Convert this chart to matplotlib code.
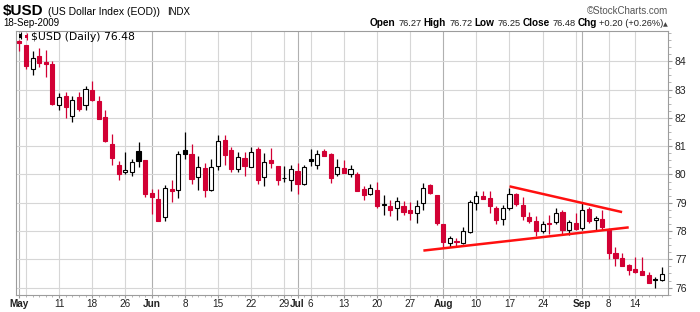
import numpy as np
import pandas as pd
import matplotlib
matplotlib.use("Agg")
import matplotlib.pyplot as plt

# trading days May 1 - Sep 18 2009, US holidays skipped
holidays = ["2009-05-25", "2009-07-03", "2009-09-07"]
dates = pd.bdate_range("2009-05-01", "2009-09-18").drop(pd.to_datetime(holidays))

opens = [84.71, 84.56, 83.72, 84.19, 83.98, 83.91, 82.44, 82.78, 82.08, 82.74,
         82.45, 82.99, 82.60, 82.03, 81.08, 80.34, 80.08, 80.08, 80.84, 80.52,
         79.36, 79.14, 78.49, 79.49, 79.46, 80.85, 80.72, 79.91, 80.24, 79.44,
         80.31, 81.23, 80.87, 80.19, 80.58, 80.28, 80.90, 79.91, 80.52, 80.31,
         79.86, 79.81, 80.13, 79.66, 80.55, 80.34, 80.84, 80.73, 80.02, 80.24,
         80.02, 80.02, 79.48, 79.31, 79.46, 78.92, 78.89, 78.81, 78.89, 78.75,
         78.63, 78.99, 79.64, 79.26, 78.26, 77.58, 77.66, 77.58, 77.96, 78.99,
         79.25, 79.17, 78.81, 78.41, 78.81, 79.32, 78.93, 78.48, 78.36, 77.99,
         78.27, 78.32, 78.69, 78.02, 78.28, 78.11, 78.78, 78.39, 78.43, 78.05,
         77.22, 77.05, 76.81, 76.66, 76.60, 76.46, 76.30, 76.27]
highs = [84.75, 84.58, 84.38, 84.47, 84.41, 84.00, 82.88, 82.92, 82.78, 82.92,
         83.13, 83.29, 82.76, 82.29, 81.43, 80.48, 80.80, 80.54, 81.16, 80.52,
         79.50, 79.48, 79.64, 79.81, 80.84, 81.51, 81.08, 80.66, 80.42, 80.54,
         81.39, 81.40, 80.97, 80.81, 80.78, 80.97, 80.97, 80.76, 80.93, 80.31,
         80.31, 80.34, 80.42, 80.34, 80.91, 80.87, 80.91, 80.76, 80.54, 80.52,
         80.34, 80.07, 79.60, 79.67, 79.75, 79.28, 79.11, 79.22, 79.05, 79.01,
         79.11, 79.70, 79.66, 79.26, 78.26, 77.83, 77.75, 78.14, 79.11, 79.43,
         79.42, 79.40, 78.87, 78.93, 79.52, 79.36, 79.21, 78.66, 78.54, 78.34,
         78.58, 78.83, 78.75, 78.40, 78.63, 78.99, 78.85, 78.54, 78.73, 78.11,
         77.43, 77.22, 76.84, 77.09, 77.08, 76.54, 76.39, 76.72]
lows = [84.35, 83.73, 83.50, 83.79, 83.43, 82.45, 82.28, 82.01, 81.87, 82.23,
        82.29, 82.60, 81.95, 81.15, 80.34, 79.79, 80.01, 79.96, 80.28, 79.22,
        78.60, 78.34, 78.37, 79.01, 79.17, 80.54, 79.66, 79.46, 79.20, 79.40,
        80.17, 80.34, 80.07, 80.07, 79.95, 80.28, 79.67, 79.58, 80.23, 79.61,
        79.74, 79.41, 79.32, 79.61, 80.31, 80.19, 80.67, 79.70, 79.95, 80.05,
        79.91, 79.40, 79.11, 79.26, 78.81, 78.57, 78.54, 78.40, 78.58, 78.40,
        78.30, 78.75, 79.32, 78.22, 77.40, 77.43, 77.43, 77.54, 77.93, 78.73,
        79.13, 78.63, 78.25, 78.22, 78.73, 78.87, 78.40, 78.28, 77.81, 77.93,
        77.90, 78.24, 77.87, 77.87, 78.05, 78.05, 78.28, 78.05, 78.05, 77.02,
        76.77, 76.75, 76.46, 76.52, 76.46, 76.16, 75.99, 76.25]
closes = [84.63, 83.85, 84.11, 83.94, 83.92, 82.50, 82.73, 82.37, 82.64, 82.32,
          83.02, 82.62, 81.97, 81.17, 80.57, 80.02, 80.17, 80.45, 80.49, 79.32,
          79.20, 78.36, 79.52, 79.42, 80.72, 80.74, 79.84, 80.26, 79.46, 80.26,
          81.17, 80.70, 80.21, 80.61, 80.31, 80.79, 79.81, 80.44, 80.42, 79.81,
          79.88, 80.19, 79.66, 80.25, 80.46, 80.73, 80.67, 79.87, 80.26, 80.05,
          80.19, 79.40, 79.28, 79.52, 78.87, 78.94, 78.75, 79.07, 78.66, 78.64,
          78.87, 79.52, 79.34, 78.28, 77.60, 77.75, 77.60, 78.01, 79.01, 79.25,
          79.13, 78.87, 78.40, 78.81, 79.31, 78.95, 78.52, 78.37, 78.01, 78.26,
          78.24, 78.64, 78.05, 78.32, 78.07, 78.73, 78.37, 78.46, 78.16, 77.24,
          77.05, 76.77, 76.63, 76.57, 76.46, 76.16, 76.28, 76.48]
prior_close = 84.90

# trendlines drawn on the chart (date, value)
upper_dates = ["2009-08-17", "2009-09-10"]
upper_vals = [79.58, 78.67]
lower_dates = ["2009-07-29", "2009-09-11"]
lower_vals = [77.31, 78.13]

W, H = 700, 312
RED = "#d20034"
GRID = "#d6d6d6"
NARROW = ["Liberation Sans Narrow", "Liberation Sans", "DejaVu Sans"]
SANS = ["Liberation Sans", "DejaVu Sans"]


def fx(px):
    return px / W


def fy(py):
    return 1 - py / H


o = np.array(opens)
h = np.array(highs)
l = np.array(lows)
c = np.array(closes)
x = np.arange(len(dates))
prev = np.concatenate([[prior_close], c[:-1]])
col = np.where(c >= prev, "black", RED)
face = np.where(c > o, "white", col)

fig = plt.figure(figsize=(W / 100, H / 100), dpi=100)
ax = fig.add_axes([fx(16), 1 - 295 / H, fx(668) - fx(16), (295 - 31) / H])

# week / month grid lines
week = dates.to_period("W")
week_start = np.r_[True, week[1:] != week[:-1]]
month_start = np.r_[True, dates.month[1:] != dates.month[:-1]]
for i in np.where(week_start | month_start)[0]:
    ax.axvline(i, color="#b0b0b0" if month_start[i] else GRID, lw=0.8, zorder=0)
for v in range(76, 85):
    ax.axhline(v, color=GRID, lw=0.8, zorder=0)

# candles
ax.vlines(x, l, h, colors=col, lw=0.9, zorder=2)
body = np.maximum(np.abs(c - o), 0.02)
ax.bar(x, body, bottom=np.minimum(o, c), width=0.62, color=face,
       edgecolor=col, linewidth=0.8, zorder=3)

# trendlines
for d, v in [(upper_dates, upper_vals), (lower_dates, lower_vals)]:
    xi = dates.get_indexer(pd.to_datetime(d))
    ax.plot(xi, v, color="#ff1010", lw=1.8, solid_capstyle="butt", zorder=4)

ax.set_xlim(-0.5, 97.93)
ax.set_ylim(75.74, 85.07)

# axes styling
for s in ax.spines.values():
    s.set_color("#9c9c9c")
    s.set_linewidth(0.8)
ax.yaxis.tick_right()
ax.set_yticks(range(76, 85))
ax.set_yticks(np.arange(75.75, 85.01, 0.25), minor=True)
ax.tick_params(axis="y", which="major", length=3, color="#999999", pad=2,
               labelsize=7.5, labelcolor="#222222")
ax.tick_params(axis="y", which="minor", length=2, color="#aaaaaa")
for t in ax.get_yticklabels():
    t.set_family(SANS)

lab_pos, lab_txt = [], []
ms = np.where(month_start)[0]
for i in np.where(week_start | month_start)[0]:
    if month_start[i]:
        lab_pos.append(i)
        lab_txt.append(dates[i].strftime("%b"))
    elif np.min(np.abs(ms - i)) > 1:
        lab_pos.append(i)
        lab_txt.append(str(dates[i].day))
ax.set_xticks(lab_pos, lab_txt)
ax.set_xticks(x, minor=True)
ax.tick_params(axis="x", which="major", length=2, color="#999999", pad=1,
               labelsize=7.2, labelcolor="#222222")
ax.tick_params(axis="x", which="minor", length=1.5, color="#aaaaaa")
for t, s in zip(ax.get_xticklabels(), lab_txt):
    t.set_family(SANS)
    if not s.isdigit():
        t.set_fontweight("bold")

# header
fig.canvas.draw()
r = fig.canvas.get_renderer()


def row(pieces, x0, y, align="left"):
    # pieces: (text, size, weight, color, gap after)
    px = x0
    seq = pieces if align == "left" else list(reversed(pieces))
    for s, size, wt, cl, gap in seq:
        fam = ["DejaVu Sans"] if s == "\u25b2" else NARROW
        t = fig.text(fx(px), fy(y), s, fontsize=size, fontweight=wt,
                     color=cl, family=fam, va="baseline", ha=align)
        bb = t.get_window_extent(r)
        px = bb.x1 + gap if align == "left" else bb.x0 - gap


row([("$USD", 11, "bold", "black", 4),
     ("(US Dollar Index (EOD))", 7.5, "normal", "black", 7),
     ("INDX", 7, "normal", "black", 0)], 3, 15)
fig.text(fx(668), fy(14), "\u00a9StockCharts.com", fontsize=7,
         color="#555555", family=NARROW, ha="right", va="baseline")
fig.text(fx(3), fy(26), dates[-1].strftime("%d-%b-%Y"), fontsize=7,
         family=NARROW, va="baseline")

chg = c[-1] - c[-2]
pct = chg / c[-2] * 100
row([("Open", 7.2, "bold", "black", 2), (f"{o[-1]:.2f}", 6.7, "normal", "#222222", 3),
     ("High", 7.2, "bold", "black", 2), (f"{h[-1]:.2f}", 6.7, "normal", "#222222", 3),
     ("Low", 7.2, "bold", "black", 2), (f"{l[-1]:.2f}", 6.7, "normal", "#222222", 3),
     ("Close", 7.2, "bold", "black", 2), (f"{c[-1]:.2f}", 6.7, "normal", "#222222", 3),
     ("Chg", 7.2, "bold", "black", 2), (f"{chg:+.2f} ({pct:+.2f}%)", 6.7, "normal", "#222222", 2),
     ("\u25b2", 4.5, "normal", "#444444", 0)], 668, 26, align="right")

# legend inside the plot
fig.text(fx(31), fy(40), f"$USD (Daily) {c[-1]:.2f}", fontsize=7.8,
         family="DejaVu Sans", va="baseline")
ax.vlines([0.2, 1.1], [84.80, 84.76], [85.02, 85.00], colors=["black", RED],
          lw=0.8, zorder=5)
ax.bar([0.2, 1.1], [0.12, 0.08], bottom=[84.84, 84.84], width=0.5,
       color=["black", RED], zorder=5)

fig.savefig("out.png", dpi=100)
